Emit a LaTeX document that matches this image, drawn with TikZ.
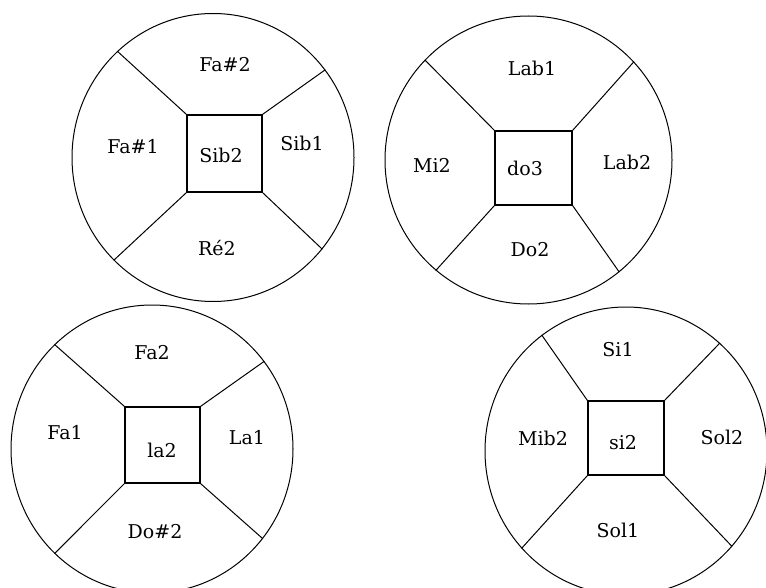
\documentclass[tikz,border=0pt]{standalone}
\usepackage{fontspec}
\setmainfont{DejaVu Serif}
\usetikzlibrary{shapes.geometric}
\begin{document}
\begin{tikzpicture}[x=1pt,y=-1pt,
  wheel/.style={draw, ellipse, inner sep=0pt, minimum width=282pt, minimum height=288pt, line width=1pt},
  core/.style={draw, rectangle, inner sep=0pt, line width=1.5pt},
  spoke/.style={line width=1pt},
  lbl/.style={font=\fontsize{19}{22}\selectfont, inner sep=0pt}]
\useasboundingbox (0,0) rectangle (766,588);

% wheel 1 (top left)
\node[wheel] (cA) at (213,157.5) {};
\node[core, minimum width=75pt, minimum height=77pt] (sA) at (224.5,153.5) {};
\draw[spoke] (sA.north west) -- (cA.132.3);
\draw[spoke] (sA.north east) -- (cA.38);
\draw[spoke] (sA.south west) -- (cA.226.6);
\draw[spoke] (sA.south east) -- (cA.320.9);
\node[lbl] (tA1) at (225,65) {Fa\#2};
\node[lbl] (tA2) at (133,147) {Fa\#1};
\node[lbl] (tA3) at (221,155) {Sib2};
\node[lbl] (tA4) at (302,143) {Sib1};
\node[lbl] (tA5) at (217,248) {Ré2};

% wheel 2 (top right)
\node[wheel, minimum width=287pt] (cB) at (528.5,160) {};
\node[core, minimum width=77pt, minimum height=74pt] (sB) at (533.5,168) {};
\draw[spoke] (sB.north west) -- (cB.136);
\draw[spoke] (sB.north east) -- (cB.43.2);
\draw[spoke] (sB.south west) -- (cB.230.4);
\draw[spoke] (sB.south east) -- (cB.309.3);
\node[lbl] (tB1) at (532,68) {Lab1};
\node[lbl] (tB2) at (432,165) {Mi2};
\node[lbl] (tB3) at (525,168) {do3};
\node[lbl] (tB4) at (627,162) {Lab2};
\node[lbl] (tB5) at (530,250) {Do2};

% wheel 3 (bottom left)
\node[wheel] (cC) at (152,449) {};
\node[core, minimum width=75pt, minimum height=76pt] (sC) at (162.5,445) {};
\draw[spoke] (sC.north west) -- (cC.133.6);
\draw[spoke] (sC.north east) -- (cC.38.1);
\draw[spoke] (sC.south west) -- (cC.227.6);
\draw[spoke] (sC.south east) -- (cC.321);
\node[lbl] (tC1) at (152,353) {Fa2};
\node[lbl] (tC2) at (65,433) {Fa1};
\node[lbl] (tC3) at (162,450) {la2};
\node[lbl] (tC4) at (247,438) {La1};
\node[lbl] (tC5) at (155,532) {Do\#2};

% wheel 4 (bottom right)
\node[wheel] (cD) at (626,451) {};
\node[core, minimum width=76pt, minimum height=74pt] (sD) at (626,438) {};
\draw[spoke] (sD.north west) -- (cD.126.4);
\draw[spoke] (sD.north east) -- (cD.49.7);
\draw[spoke] (sD.south west) -- (cD.223.5);
\draw[spoke] (sD.south east) -- (cD.318.7);
\node[lbl] (tD1) at (618,350) {Si1};
\node[lbl] (tD2) at (543,438) {Mib2};
\node[lbl] (tD3) at (623,443) {si2};
\node[lbl] (tD4) at (722,437) {Sol2};
\node[lbl] (tD5) at (618,530) {Sol1};
\end{tikzpicture}
\end{document}
